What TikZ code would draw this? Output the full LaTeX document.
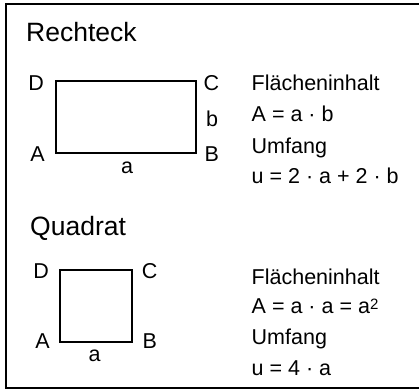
\documentclass[tikz,border=0pt]{standalone}
\usepackage{fontspec}
\setmainfont{Liberation Sans}
\begin{document}
\begin{tikzpicture}[x=1pt,y=-1pt,
  lbl/.style={font=\fontsize{21.5}{25}\selectfont, inner sep=0pt},
  ttl/.style={font=\fontsize{26.5}{30}\selectfont, inner sep=0pt, anchor=base west},
  txt/.style={font=\fontsize{21.5}{25}\selectfont, inner sep=0pt, anchor=base west},
  fig/.style={line width=2pt, line join=miter},
  frame/.style={line width=2pt}]
\useasboundingbox (0,0) rectangle (419,390);
% frame
\coordinate (f1) at (421,4);
\coordinate (f2) at (6,4);
\coordinate (f3) at (6,388);
\coordinate (f4) at (421,388);
\draw[frame] (f1) -- (f2) -- (f3) -- (f4);

% Rechteck
\node[ttl] (t1) at (26,42) {Rechteck};
\coordinate (RA) at (56,153);
\coordinate (RB) at (196,153);
\coordinate (RC) at (196,81);
\coordinate (RD) at (56,81);
\draw[fig] (RA) -- (RB) -- (RC) -- (RD) -- cycle;
\node[lbl, anchor=base east] (lD) at (44,90.7) {D};
\node[lbl, anchor=base east] (lA) at (45,161) {A};
\node[lbl, anchor=base west] (lC) at (203.5,90.7) {C};
\node[lbl, anchor=base west] (lb) at (206,126) {b};
\node[lbl, anchor=base west] (lB) at (204.5,161) {B};
\node[lbl, anchor=base] (la) at (127,173.3) {a};

\node[txt] (r1) at (251.5,90.7) {Flächeninhalt};
\node[txt] (r2) at (251.5,121.5) {A = a · b};
\node[txt] (r3) at (251.5,153.5) {Umfang};
\node[txt] (r4) at (251.5,183.5) {u = 2 · a + 2 · b};

% Quadrat
\node[ttl] (t2) at (30,235) {Quadrat};
\coordinate (QA) at (59.5,342);
\coordinate (QB) at (132,342);
\coordinate (QC) at (132,269.5);
\coordinate (QD) at (59.5,269.5);
\draw[fig] (QA) -- (QB) -- (QC) -- (QD) -- cycle;
\node[lbl, anchor=base east] (qD) at (49,278) {D};
\node[lbl, anchor=base east] (qA) at (50,348.3) {A};
\node[lbl, anchor=base west] (qC) at (141.7,278) {C};
\node[lbl, anchor=base west] (qB) at (142.3,348.3) {B};
\node[lbl, anchor=base] (qa) at (94.7,361) {a};

\node[txt] (s1) at (251.5,284) {Flächeninhalt};
\node[txt] (s2) at (251.5,313) {A = a · a = a\raisebox{3.5pt}{\fontsize{15}{15}\selectfont 2}};
\node[txt] (s3) at (251.5,344) {Umfang};
\node[txt] (s4) at (251.5,375) {u = 4 · a};
\end{tikzpicture}
\end{document}
